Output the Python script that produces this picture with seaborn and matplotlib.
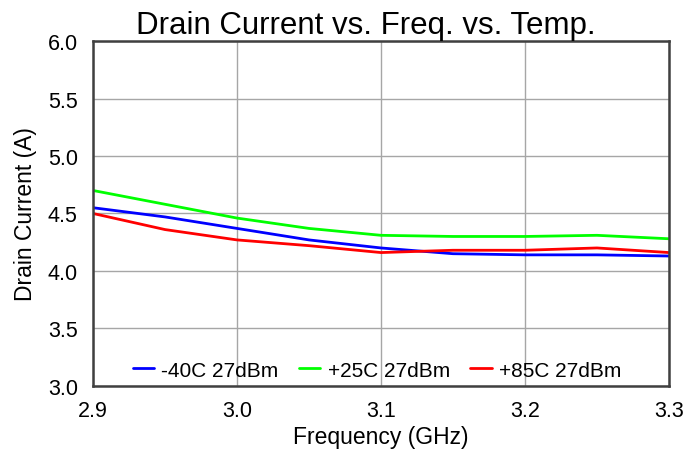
import pandas as pd
import numpy as np
import matplotlib.pyplot as plt
import seaborn as sns

# Frequency points (GHz)
freq = [2.90, 2.95, 3.00, 3.05, 3.10, 3.15, 3.20, 3.25, 3.30]

# Drain current (A) per temperature
cur_m40 = [4.55, 4.47, 4.37, 4.27, 4.20, 4.15, 4.14, 4.14, 4.13]
cur_p25 = [4.70, 4.58, 4.46, 4.37, 4.31, 4.30, 4.30, 4.31, 4.28]
cur_p85 = [4.50, 4.36, 4.27, 4.22, 4.16, 4.18, 4.18, 4.20, 4.16]

labels = ['-40C 27dBm', '+25C 27dBm', '+85C 27dBm']
colors = ['#0000ff', '#00ff00', '#ff0000']

df = pd.DataFrame({'freq': freq * 3,
                   'current': cur_m40 + cur_p25 + cur_p85,
                   'series': [labels[0]] * len(freq) + [labels[1]] * len(freq) + [labels[2]] * len(freq)})

sns.set_style('white')
plt.rcParams['font.family'] = ['Liberation Sans', 'DejaVu Sans']
plt.rcParams['text.color'] = 'black'
plt.rcParams['axes.labelcolor'] = 'black'
plt.rcParams['xtick.color'] = 'black'
plt.rcParams['ytick.color'] = 'black'

fig = plt.figure(figsize=(6.84, 4.52), dpi=100)
ax = fig.add_axes([0.136, 0.144, 0.842, 0.763])

sns.lineplot(data=df, x='freq', y='current', hue='series', palette=colors,
             linewidth=2, ax=ax)

ax.set_xlim(2.9, 3.3)
ax.set_ylim(3.0, 6.0)
ax.set_xticks([2.9, 3.0, 3.1, 3.2, 3.3])
ax.set_yticks(np.arange(3.0, 6.01, 0.5))
ax.xaxis.set_major_formatter(plt.FormatStrFormatter('%.1f'))
ax.yaxis.set_major_formatter(plt.FormatStrFormatter('%.1f'))
ax.grid(True, color='#a6a6a6', linewidth=1)
ax.tick_params(axis='both', labelsize=15.5, length=0)
ax.tick_params(axis='x', pad=10)
ax.tick_params(axis='y', pad=11)
for s in ax.spines.values():
    s.set_color('#404040')
    s.set_linewidth(1.8)

ax.set_title('Drain Current vs. Freq. vs. Temp.', fontsize=22.5, pad=6, x=0.474)
ax.set_xlabel('Frequency (GHz)', fontsize=16.5, labelpad=3)
ax.set_ylabel('Drain Current (A)', fontsize=16.5, labelpad=8)

ax.legend(loc='lower center', ncol=3, frameon=False, fontsize=15,
          handlelength=1.03, handletextpad=0.34, columnspacing=0.98,
          bbox_to_anchor=(0.493, -0.036))

fig.savefig('out.png', dpi=100)
